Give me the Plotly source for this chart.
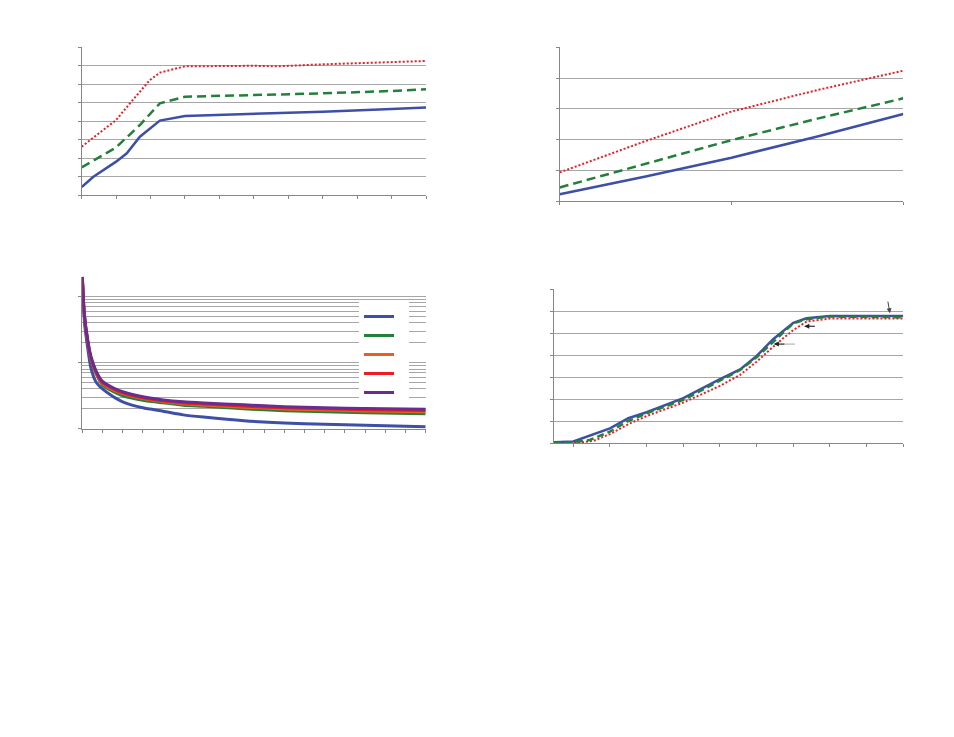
import plotly.graph_objects as go

# ---------- Panel 1 (top-left) ----------
p1_x_blue = [0, 0.34, 1.0, 1.31, 1.69, 2.27, 3.0, 5.0, 7.0, 9.0, 10.0]
p1_blue = [0.45, 1.0, 1.82, 2.27, 3.17, 4.04, 4.29, 4.40, 4.52, 4.67, 4.74]
p1_x_green = [0, 1.0, 1.69, 2.27, 3.0, 5.0, 7.0, 9.0, 10.0]
p1_green = [1.51, 2.59, 3.80, 4.97, 5.33, 5.41, 5.51, 5.64, 5.73]
p1_x_red = [0, 1.0, 1.40, 1.98, 2.27, 3.0, 5.0, 5.66, 7.0, 9.0, 10.0]
p1_red = [2.63, 4.07, 4.97, 6.23, 6.63, 6.97, 7.0, 6.97, 7.08, 7.19, 7.26]

# ---------- Panel 2 (top-right) ----------
p2_x = [0, 0.5, 1.0, 1.5, 2.0]
p2_blue = [0.22, 0.80, 1.41, 2.10, 2.83]
p2_green = [0.44, 1.20, 1.98, 2.68, 3.34]
p2_red = [0.93, 1.95, 2.91, 3.61, 4.24]

# ---------- Panel 3 (bottom-left, log scale) ----------
p3_x = [0, 0.1, 0.27, 0.43, 0.68, 1, 1.5, 2, 3, 4, 5, 6, 8, 10, 12, 14, 17]
p3_blue = [200, 42, 16.5, 8.2, 5.1, 4.0, 3.1, 2.55, 2.07, 1.84, 1.62, 1.50, 1.32, 1.22, 1.17, 1.13, 1.07]
p3_green = [200, 51, 20, 11.2, 6.8, 4.6, 3.7, 3.15, 2.70, 2.46, 2.27, 2.18, 2.00, 1.87, 1.80, 1.75, 1.69]
p3_orange = [200, 52, 20.5, 11.5, 7.0, 4.85, 3.9, 3.40, 2.85, 2.57, 2.38, 2.28, 2.12, 1.99, 1.92, 1.86, 1.80]
p3_red = [200, 53, 21, 11.8, 7.2, 5.0, 4.05, 3.50, 2.95, 2.65, 2.47, 2.37, 2.20, 2.07, 2.00, 1.94, 1.88]
p3_purple = [200, 55, 22, 12.3, 7.5, 5.2, 4.2, 3.62, 3.04, 2.73, 2.55, 2.45, 2.30, 2.15, 2.08, 2.02, 1.97]
p3_names = ["a", "b", "c", "d", "e"]

# ---------- Panel 4 (bottom-right) ----------
p4_x_blue = [0.473, 1.0, 2.0, 2.5, 3.0, 4.0, 5.0, 5.55, 6.0, 6.45, 7.0, 7.36, 8.0, 10.0]
p4_blue = [0.05, 0.08, 0.68, 1.14, 1.41, 2.05, 2.92, 3.36, 3.97, 4.73, 5.48, 5.68, 5.79, 5.79]
p4_x_green = [0.473, 1.0, 1.45, 2.0, 2.45, 3.0, 4.0, 5.0, 5.55, 6.0, 6.45, 7.0, 7.36, 8.0, 10.0]
p4_green = [0.03, 0.05, 0.15, 0.53, 0.98, 1.36, 1.97, 2.83, 3.33, 3.91, 4.62, 5.45, 5.64, 5.76, 5.73]
p4_x_red = [0.473, 1.18, 1.55, 2.0, 2.55, 3.0, 4.0, 5.0, 5.55, 6.0, 6.45, 7.0, 7.36, 8.0, 10.0]
p4_red = [0.0, 0.03, 0.11, 0.42, 0.91, 1.24, 1.85, 2.61, 3.11, 3.71, 4.39, 5.15, 5.53, 5.67, 5.67]

# arrows in panel 4: (head x, head y, tail x, tail y)
p4_arrows = [(9.636, 5.91, 9.573, 6.51), (7.30, 5.32, 7.59, 5.32), (6.47, 4.51, 7.045, 4.51)]

BLUE = "#3D4FA6"
GREEN = "#23803A"
ORANGE = "#E8611C"
RED = "#ED1C24"
PURPLE = "#6A2C91"
GRID = "#A6A6A6"
AXIS = "#868686"

OFF = 8  # page body margin
W, H = 938, 721


def dom_x(a, b):
    return [(a - OFF) / W, (b - OFF) / W]


def dom_y(top, bottom):
    return [1 - (bottom - OFF) / H, 1 - (top - OFF) / H]


fig = go.Figure()

# Panel 1
fig.add_trace(go.Scatter(x=p1_x_blue, y=p1_blue, mode="lines", line=dict(color=BLUE, width=2.5),
                         xaxis="x", yaxis="y", showlegend=False))
fig.add_trace(go.Scatter(x=p1_x_green, y=p1_green, mode="lines", line=dict(color=GREEN, width=2.5, dash="9px,5px"),
                         xaxis="x", yaxis="y", showlegend=False))
fig.add_trace(go.Scatter(x=p1_x_red, y=p1_red, mode="lines", line=dict(color=RED, width=2, dash="2px,2px"),
                         xaxis="x", yaxis="y", showlegend=False))

# Panel 2
fig.add_trace(go.Scatter(x=p2_x, y=p2_blue, mode="lines", line=dict(color=BLUE, width=2.5),
                         xaxis="x2", yaxis="y2", showlegend=False))
fig.add_trace(go.Scatter(x=p2_x, y=p2_green, mode="lines", line=dict(color=GREEN, width=2.5, dash="9px,5px"),
                         xaxis="x2", yaxis="y2", showlegend=False))
fig.add_trace(go.Scatter(x=p2_x, y=p2_red, mode="lines", line=dict(color=RED, width=2, dash="2px,2px"),
                         xaxis="x2", yaxis="y2", showlegend=False))

# Panel 3
for vals, col, nm in zip([p3_blue, p3_green, p3_orange, p3_red, p3_purple],
                         [BLUE, GREEN, ORANGE, RED, PURPLE], p3_names):
    fig.add_trace(go.Scatter(x=p3_x, y=vals, mode="lines",
                             line=dict(color=col, width=3, shape="spline", smoothing=0.6),
                             xaxis="x3", yaxis="y3", name=nm, showlegend=True))

# Panel 4
fig.add_trace(go.Scatter(x=p4_x_red, y=p4_red, mode="lines", line=dict(color=RED, width=2, dash="2px,2px"),
                         xaxis="x4", yaxis="y4", showlegend=False))
fig.add_trace(go.Scatter(x=p4_x_blue, y=p4_blue, mode="lines", line=dict(color=BLUE, width=2.5),
                         xaxis="x4", yaxis="y4", showlegend=False))
fig.add_trace(go.Scatter(x=p4_x_green, y=p4_green, mode="lines", line=dict(color=GREEN, width=2.5, dash="7px,4px"),
                         xaxis="x4", yaxis="y4", showlegend=False))

annotations = []
shapes = []
for i, (hx, hy, tx, ty) in enumerate(p4_arrows):
    if i == 0:
        annotations.append(dict(x=hx, y=hy, ax=tx, ay=ty, xref="x4", yref="y4", axref="x4", ayref="y4",
                                text="", showarrow=True, arrowhead=2, arrowsize=1, arrowwidth=1,
                                arrowcolor="#444444"))
    else:
        shapes.append(dict(type="line", x0=hx, y0=hy, x1=tx, y1=ty, xref="x4", yref="y4",
                           line=dict(color="#A6A6A6", width=1)))
        annotations.append(dict(x=hx, y=hy, ax=12, ay=0, xref="x4", yref="y4",
                                text="", showarrow=True, arrowhead=2, arrowsize=1, arrowwidth=1,
                                arrowcolor="#222222"))

common_x = dict(showgrid=False, showline=True, linecolor=AXIS, linewidth=1, ticks="outside",
                ticklen=3, tickcolor=AXIS, showticklabels=False, zeroline=False)
common_y = dict(showgrid=True, gridcolor=GRID, gridwidth=1, showline=True, linecolor=AXIS, linewidth=1,
                ticks="outside", ticklen=3, tickcolor=AXIS, showticklabels=False, zeroline=False)

fig.update_layout(
    width=W, height=H,
    margin=dict(l=0, r=0, t=0, b=0),
    paper_bgcolor="white", plot_bgcolor="white",
    xaxis=dict(domain=dom_x(81.7, 426), range=[0, 10], dtick=1, tick0=0, anchor="y", **common_x),
    yaxis=dict(domain=dom_y(47.3, 195.3), range=[0, 8], dtick=1, tick0=0, anchor="x", **common_y),
    xaxis2=dict(domain=dom_x(559.7, 903.3), range=[0, 2], dtick=1, tick0=0, anchor="y2", **common_x),
    yaxis2=dict(domain=dom_y(47.3, 201), range=[0, 5], dtick=1, tick0=0, anchor="x2", **common_y),
    xaxis3=dict(domain=dom_x(82.3, 425.7), range=[0, 17], dtick=1, tick0=0, anchor="y3", **common_x),
    yaxis3=dict(domain=dom_y(276.7, 428.7), type="log", range=[0, 2.30103], dtick=1, anchor="x3",
                minor=dict(dtick="D1", showgrid=True, gridcolor=GRID, gridwidth=1, ticks=""),
                **common_y),
    xaxis4=dict(domain=dom_x(554, 903.3), range=[0.473, 10], dtick=1, tick0=1, anchor="y4", **common_x),
    yaxis4=dict(domain=dom_y(289.3, 443.3), range=[0, 7], dtick=1, tick0=0, anchor="x4", **common_y),
    showlegend=True,
    legend=dict(x=(359 - OFF) / W, y=1 - (302 - OFF) / H, xanchor="left", yanchor="top", bgcolor="white",
                borderwidth=0, font=dict(size=8, color="white", family="Arial"),
                itemwidth=30, tracegroupgap=0),
    annotations=annotations,
    shapes=shapes,
)

fig.write_html("out.html")
